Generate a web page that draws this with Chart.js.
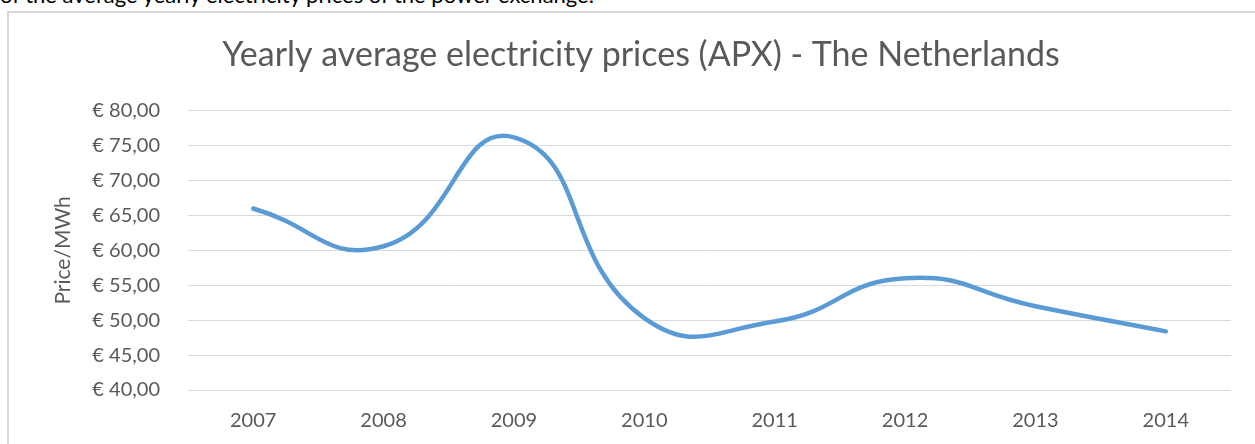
<!DOCTYPE html>
<html>
<head>
<meta charset="utf-8">
<script src="https://cdn.jsdelivr.net/npm/chart.js@4.4.1/dist/chart.umd.min.js"></script>
<style>
  html, body { margin: 0; padding: 0; background: #fff; overflow: hidden; }
  #doc-text {
    position: absolute; left: 0; top: -16px;
    font-family: Lato, sans-serif; font-size: 22px; line-height: 22px;
    color: #000; white-space: nowrap;
  }
  #box {
    position: absolute; left: 7px; top: 11px;
    width: 1260px; height: 440px;
    border-left: 2px solid #d9d9d9; border-top: 2px solid #d9d9d9;
  }
  #wrap { position: absolute; left: 0; top: 0; width: 1248px; height: 432px; }
</style>
</head>
<body>
<div id="doc-text">of the average yearly electricity prices of the power exchange.</div>
<div id="box"><div id="wrap"><canvas id="priceChart"></canvas></div></div>
<script>
// Data
const years = ['2007', '2008', '2009', '2010', '2011', '2012', '2013', '2014'];
const prices = [66.0, 60.6, 76.2, 50.3, 49.8, 56.0, 52.0, 48.4];

const chartTitle = 'Yearly average electricity prices (APX) - The Netherlands';
const yTitle = 'Price/MWh';

const textColor = '#595959';
const gridColor = '#d9d9d9';
const lineColor = '#5b9bd5';

function euro(v) {
    return '€ ' + Number(v).toFixed(2).replace('.', ',');
}

const ctx = document.getElementById('priceChart');
new Chart(ctx, {
    type: 'line',
    data: {
        labels: years,
        datasets: [{
            label: 'Price',
            data: prices,
            borderColor: lineColor,
            borderWidth: 4.5,
            borderCapStyle: 'round',
            tension: 0.5,
            pointRadius: 0,
            fill: false
        }]
    },
    options: {
        responsive: true,
        maintainAspectRatio: false,
        animation: false,
        layout: { padding: { left: 42, right: 26, top: 0, bottom: 0 } },
        plugins: {
            legend: { display: false },
            tooltip: { enabled: false },
            title: {
                display: true,
                text: chartTitle,
                color: textColor,
                font: { family: 'Lato', size: 34, weight: 400 },
                padding: { top: 22, bottom: 35 }
            }
        },
        scales: {
            x: {
                offset: true,
                grid: { display: false },
                border: { display: false },
                ticks: {
                    color: textColor,
                    font: { family: 'Lato', size: 20 },
                    padding: 11,
                    maxRotation: 0
                },
                afterFit: (s) => { s.height = 55; }
            },
            y: {
                min: 40,
                max: 80,
                border: { display: false },
                grid: { color: gridColor, lineWidth: 1, drawTicks: false },
                ticks: {
                    stepSize: 5,
                    color: textColor,
                    font: { family: 'Lato', size: 20 },
                    padding: 28,
                    callback: (v) => euro(v)
                },
                title: {
                    display: true,
                    text: yTitle,
                    color: textColor,
                    font: { family: 'Lato', size: 21 },
                    padding: { top: 0, bottom: 0 }
                },
                afterFit: (s) => { s.width = 137; }
            }
        }
    }
});
</script>
</body>
</html>
